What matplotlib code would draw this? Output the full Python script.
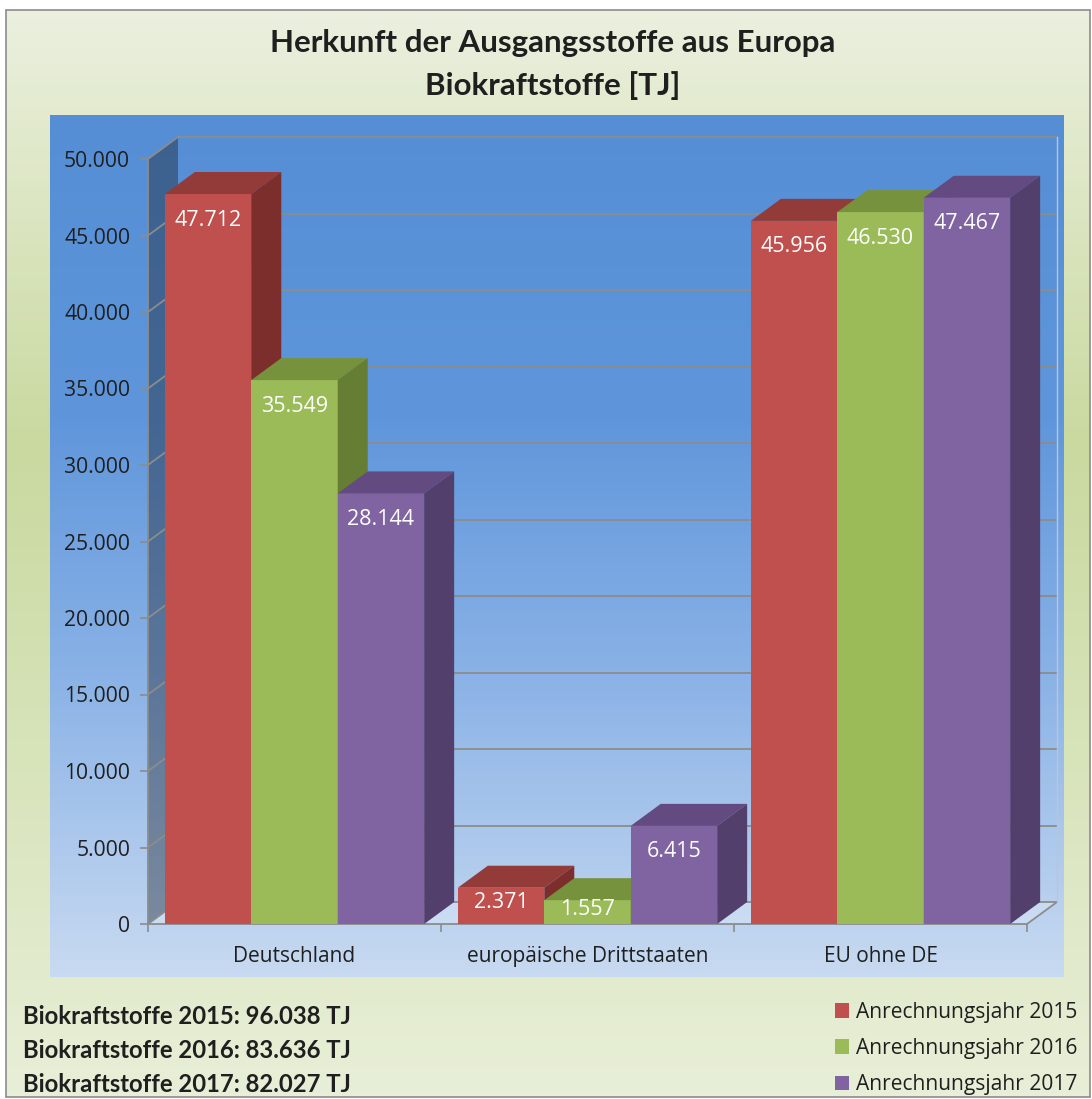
import numpy as np
import matplotlib.pyplot as plt
from matplotlib.patches import Polygon, Rectangle, Patch
from matplotlib.colors import LinearSegmentedColormap

# ---------- DATA ----------
categories = ["Deutschland", "europäische Drittstaaten", "EU ohne DE"]
years = ["2015", "2016", "2017"]
values_2015 = [47712, 2371, 45956]
values_2016 = [35549, 1557, 46530]
values_2017 = [28144, 6415, 47467]
totals = ["96.038", "83.636", "82.027"]
y_ticks = list(range(0, 50001, 5000))

front_colors = ["#c0504d", "#9bbb59", "#8064a2"]
top_colors = ["#933b38", "#76923c", "#634b82"]
side_colors = ["#7b2e2c", "#657e34", "#523f6b"]
grid_gray = "#8c8c8c"
text_dark = "#1f1f1f"


def de(n):
    return f"{n:,}".replace(",", ".")


W, H = 1092, 1099
plt.rcParams["font.family"] = ["Open Sans", "DejaVu Sans"]

fig = plt.figure(figsize=(W / 100, H / 100), dpi=100)
fig.patch.set_facecolor("white")

# ---------- BACKGROUND ----------
bg = fig.add_axes([0, 0, 1, 1], zorder=-10)
bg.set_xlim(0, W)
bg.set_ylim(H, 0)
bg.axis("off")
grad = np.linspace(0, 1, 256).reshape(-1, 1)
green = LinearSegmentedColormap.from_list(
    "g", [(0, "#ebf0df"), (0.4, "#c9d99f"), (1, "#e8efd8")])
bg.imshow(grad, cmap=green, extent=(6, 1090, 1097, 10), aspect="auto")
blue = LinearSegmentedColormap.from_list(
    "b", [(0, "#558ed5"), (0.35, "#5f96db"), (0.65, "#8ab2e6"), (1, "#c8daf1")])
bg.imshow(grad, cmap=blue, extent=(50, 1064, 977, 115), aspect="auto")
bg.add_patch(Rectangle((6, 10), 1084, 1087, fill=False, ec="#8c8c8c", lw=1.2))

# ---------- MAIN AXES ----------
L, R, B, T = 148, 1027, 924, 159
ax = fig.add_axes([L / W, 1 - B / H, (R - L) / W, (B - T) / H])
ax.set_xlim(0, 3)
ax.set_ylim(0, 50000)
ax.patch.set_visible(False)
DX = 30 / (R - L) * 3
DY = 22 / (B - T) * 50000

for s in ["top", "right"]:
    ax.spines[s].set_visible(False)
for s in ["left", "bottom"]:
    ax.spines[s].set_color(grid_gray)
    ax.spines[s].set_linewidth(1.3)

ax.set_yticks(y_ticks, [de(v) for v in y_ticks])
ax.tick_params(axis="y", length=5.8, width=1.2, color=grid_gray,
               labelsize=15.2, pad=7, labelcolor=text_dark)
ax.set_xticks([0, 1, 2, 3], [""] * 4)
ax.set_xticks([0.5, 1.5, 2.5], categories, minor=True)
ax.tick_params(axis="x", which="major", length=5.8, width=1.2, color=grid_gray)
ax.tick_params(axis="x", which="minor", length=0, labelsize=15, pad=16,
               labelcolor=text_dark)

# walls and floor
ax.add_patch(Polygon([(0, 0), (DX, DY), (DX, 50000 + DY), (0, 50000)],
                     fc="#1c2430", alpha=0.42, ec="none", clip_on=False, zorder=0.5))
ax.add_patch(Polygon([(0, 0), (3, 0), (3 + DX, DY), (DX, DY)],
                     fc="#d8e6f7", alpha=0.5, ec="none", clip_on=False, zorder=0.5))
for v in y_ticks:
    ax.plot([DX, 3 + DX], [v + DY] * 2, color=grid_gray, lw=1.3, clip_on=False, zorder=1)
    ax.plot([0, DX], [v, v + DY], color=grid_gray, lw=1.3, clip_on=False, zorder=1)
ax.plot([3, 3 + DX], [0, DY], color=grid_gray, lw=1.3, clip_on=False, zorder=1)
ax.plot([3 + DX] * 2, [DY, 50000 + DY], color="#b8c6d6", lw=1, clip_on=False, zorder=1)

# ---------- BARS ----------
series = [values_2015, values_2016, values_2017]
bw = 0.295
for i in range(len(categories)):
    for j, vals in enumerate(series):
        v = vals[i]
        x0 = i + 0.5 + (j - 1) * bw - bw / 2
        x1 = x0 + bw
        z = 3 + j
        ax.bar(x0, v, width=bw, align="edge", color=front_colors[j], lw=0, zorder=z)
        ax.add_patch(Polygon([(x0, v), (x1, v), (x1 + DX, v + DY), (x0 + DX, v + DY)],
                             fc=top_colors[j], lw=0, zorder=z, clip_on=False))
        ax.add_patch(Polygon([(x1, 0), (x1 + DX, DY), (x1 + DX, v + DY), (x1, v)],
                             fc=side_colors[j], lw=0, zorder=z, clip_on=False))
        ax.text((x0 + x1) / 2, max(v - 1700, v * 0.6), de(v), color="white",
                ha="center", va="center", fontsize=15.5, zorder=z + 0.5)

# ---------- TEXTS ----------
fig.text(553 / W, 1 - 43 / H, "Herkunft der Ausgangsstoffe aus Europa",
         family="Lato", weight="bold", fontsize=22.5, ha="center", va="center", color=text_dark)
fig.text(553 / W, 1 - 86 / H, "Biokraftstoffe [TJ]",
         family="Lato", weight="bold", fontsize=22.5, ha="center", va="center", color=text_dark)

for k, (yr, tot) in enumerate(zip(years, totals)):
    fig.text(23 / W, 1 - (1016 + 34 * k) / H, f"Biokraftstoffe {yr}: {tot} TJ",
             family="Lato", weight="bold", fontsize=17.2, ha="left", va="center", color=text_dark)

handles = [Patch(fc=c, lw=0) for c in front_colors]
labels = [f"Anrechnungsjahr {yr}" for yr in years]
fig.legend(handles, labels, loc="upper right", bbox_to_anchor=(1077 / W, 1 - 1002 / H),
           frameon=False, fontsize=15.1, handlelength=0.7, handleheight=0.7,
           handletextpad=0.3, labelspacing=0.72, borderpad=0, borderaxespad=0,
           labelcolor=text_dark)

fig.savefig("out.png", dpi=100)
